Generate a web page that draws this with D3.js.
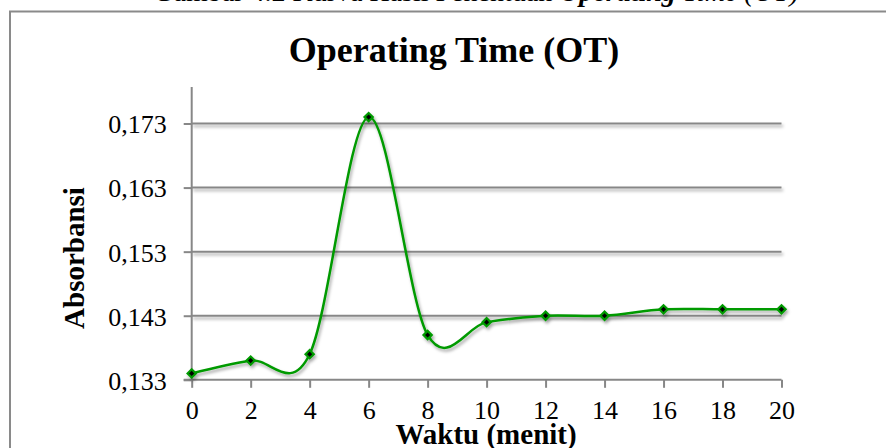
<!DOCTYPE html>
<html>
<head>
<meta charset="utf-8">
<script src="https://cdn.jsdelivr.net/npm/d3@7"></script>
<style>
  html, body { margin: 0; padding: 0; background: #fff; }
  svg { display: block; font-family: "Liberation Serif", "Times New Roman", serif; }
</style>
</head>
<body>
<svg id="chart" width="886" height="448"></svg>
<script>
// Operating time measurement: absorbance read every 2 minutes
const waktu = [0, 2, 4, 6, 8, 10, 12, 14, 16, 18, 20];
const absorbansi = [0.134, 0.136, 0.137, 0.174, 0.140, 0.142, 0.143, 0.143, 0.144, 0.144, 0.144];
const yTicks = [0.133, 0.143, 0.153, 0.163, 0.173];
const xTicks = [0, 2, 4, 6, 8, 10, 12, 14, 16, 18, 20];

const svg = d3.select("#chart");
const W = 886, H = 448;

const plot = { left: 191.7, right: 781.5, top: 87, bottom: 379.8 };

const x = d3.scaleLinear().domain([0, 20]).range([plot.left, plot.right]);
const y = d3.scaleLinear().domain([0.133, 0.1787]).range([plot.bottom, plot.top]);

const idLocale = d3.formatLocale({ decimal: ",", thousands: ".", grouping: [3], currency: ["Rp", ""] });
const fmt = idLocale.format(".3f");

// soft drop shadow used by gridlines and the series
const defs = svg.append("defs");
const sh = defs.append("filter").attr("id", "shadow")
  .attr("x", "-5%").attr("y", "-20%").attr("width", "110%").attr("height", "140%");
sh.append("feDropShadow").attr("dx", 1.5).attr("dy", 2.5).attr("stdDeviation", 1.6)
  .attr("flood-color", "#000").attr("flood-opacity", 0.35);

// caption running above the chart box
const cap = svg.append("text").attr("x", 476).attr("y", 1).attr("text-anchor", "middle")
  .attr("font-size", 28).attr("fill", "#000");
cap.append("tspan").text("Gambar 4.2 Kurva Hasil Penentuan ");
cap.append("tspan").attr("font-weight", "bold").attr("font-style", "italic").text("Operating");
cap.append("tspan").attr("font-style", "italic").text(" Time (OT)");

// chart border
svg.append("rect").attr("x", 10).attr("y", 11.5).attr("width", W + 20).attr("height", H + 20)
  .attr("fill", "none").attr("stroke", "#8a8a8a").attr("stroke-width", 2);

// title
svg.append("text").attr("x", 454).attr("y", 62).attr("text-anchor", "middle")
  .attr("font-size", 36).attr("font-weight", "bold").text("Operating Time (OT)");

// horizontal gridlines
const grid = svg.append("g").attr("filter", "url(#shadow)");
grid.selectAll("line").data(yTicks.filter(d => d !== 0.133)).join("line")
  .attr("x1", plot.left).attr("x2", plot.right)
  .attr("y1", d => y(d)).attr("y2", d => y(d))
  .attr("stroke", "#878787").attr("stroke-width", 2);

// y axis
const yAxis = svg.append("g").attr("transform", `translate(${plot.left},0)`)
  .call(d3.axisLeft(y).tickValues(yTicks).tickFormat(fmt).tickSize(8).tickPadding(17));
yAxis.select(".domain").attr("stroke", "#878787").attr("stroke-width", 2)
  .attr("d", `M0,${plot.bottom}V${plot.top}`);
yAxis.selectAll(".tick line").attr("stroke", "#878787").attr("stroke-width", 2);
yAxis.selectAll(".tick text").attr("font-size", 26).attr("font-family", "Liberation Serif, serif")
  .attr("fill", "#000").attr("dy", "0.36em");

// x axis
const xAxis = svg.append("g").attr("transform", `translate(0,${plot.bottom})`)
  .call(d3.axisBottom(x).tickValues(xTicks).tickFormat(d3.format("d")).tickSize(8).tickPadding(13));
xAxis.select(".domain").attr("stroke", "#878787").attr("stroke-width", 2)
  .attr("d", `M${plot.left - 8},0H${plot.right}`);
xAxis.selectAll(".tick line").attr("stroke", "#878787").attr("stroke-width", 2);
xAxis.selectAll(".tick text").attr("font-size", 26).attr("font-family", "Liberation Serif, serif")
  .attr("fill", "#000").attr("dy", "0.71em");

// axis titles
svg.append("text").attr("x", 486).attr("y", 444).attr("text-anchor", "middle")
  .attr("font-size", 29).attr("font-weight", "bold").text("Waktu (menit)");
svg.append("text").attr("transform", "translate(84,258) rotate(-90)").attr("text-anchor", "middle")
  .attr("font-size", 29).attr("font-weight", "bold").text("Absorbansi");

// smoothed series with diamond markers
const pts = waktu.map((w, i) => ({ w, a: absorbansi[i] }));
const series = svg.append("g").attr("filter", "url(#shadow)");
series.append("path").datum(pts)
  .attr("d", d3.line().x(d => x(d.w)).y(d => y(d.a)).curve(d3.curveCardinal.tension(0)))
  .attr("fill", "none").attr("stroke", "#009a00").attr("stroke-width", 2.5);
series.selectAll("path.mk").data(pts).join("path").attr("class", "mk")
  .attr("d", d3.symbol(d3.symbolSquare, 34)())
  .attr("transform", d => `translate(${x(d.w)},${y(d.a)}) rotate(45)`)
  .attr("fill", "#000").attr("stroke", "#009a00").attr("stroke-width", 2.2);
</script>
</body>
</html>
